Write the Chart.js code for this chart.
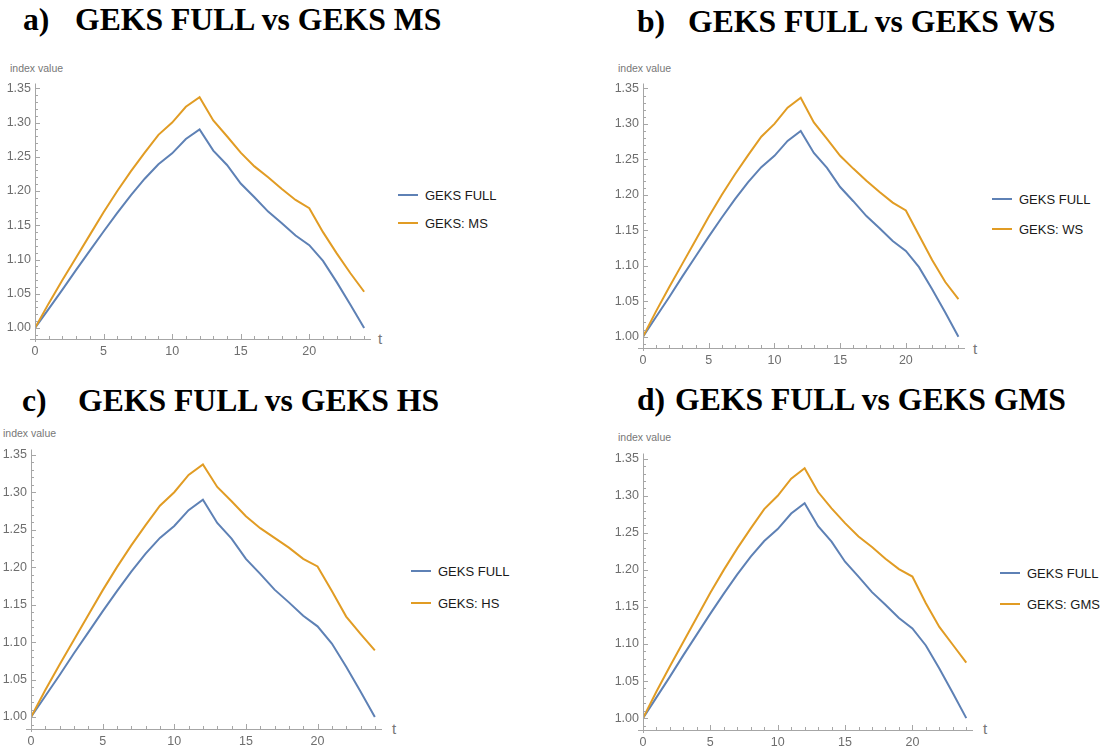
<!DOCTYPE html>
<html>
<head>
<meta charset="utf-8">
<script src="https://cdn.jsdelivr.net/npm/chart.js@4.4.0/dist/chart.umd.min.js"></script>
<style>
  body { margin: 0; background: #fff; width: 1104px; height: 746px; position: relative; overflow: hidden;
         font-family: "Liberation Sans", Arial, sans-serif; }
  canvas { position: absolute; }
  .ttl { position: absolute; font-family: "Liberation Serif", "Times New Roman", serif; font-weight: bold;
         font-size: 31.7px; color: #000; white-space: nowrap; line-height: 1; }
  .lbl { position: absolute; color: #777; white-space: nowrap; line-height: 1; }
  .leg { position: absolute; font-size: 13px; color: #1a1a1a; white-space: nowrap; line-height: 1; }
  .leg .row { position: absolute; left: 0; display: flex; align-items: center; height: 16px; margin-top: -8px; }
  .leg .sw { display: inline-block; width: 20px; height: 2px; margin-right: 7px; }
</style>
</head>
<body>
<script>
// time periods and tick labels
var periods = [0, 1, 2, 3, 4, 5, 6, 7, 8, 9, 10, 11, 12, 13, 14, 15, 16, 17, 18, 19, 20, 21, 22, 23, 24];
var xTicks = [0, 5, 10, 15, 20];
var yTicks = [1.00, 1.05, 1.10, 1.15, 1.20, 1.25, 1.30, 1.35];

// index values
var geksFull = [1.000, 1.028, 1.056, 1.085, 1.113, 1.141, 1.168, 1.194, 1.218, 1.239, 1.255, 1.276, 1.290,
                1.259, 1.238, 1.211, 1.191, 1.170, 1.153, 1.135, 1.121, 1.098, 1.067, 1.034, 1.000];
var geksMS   = [1.000, 1.036, 1.070, 1.103, 1.136, 1.169, 1.200, 1.229, 1.256, 1.282, 1.300, 1.323, 1.337,
                1.303, 1.280, 1.256, 1.236, 1.220, 1.203, 1.187, 1.175, 1.140, 1.109, 1.080, 1.053];
var geksWS   = [1.000, 1.036, 1.070, 1.103, 1.136, 1.169, 1.200, 1.229, 1.256, 1.282, 1.300, 1.323, 1.337,
                1.302, 1.279, 1.255, 1.237, 1.220, 1.204, 1.189, 1.178, 1.143, 1.108, 1.077, 1.053];
var geksHS   = [1.000, 1.036, 1.070, 1.103, 1.136, 1.169, 1.200, 1.229, 1.256, 1.282, 1.300, 1.323, 1.337,
                1.307, 1.288, 1.268, 1.252, 1.239, 1.226, 1.211, 1.201, 1.168, 1.134, 1.111, 1.089];
var geksGMS  = [1.000, 1.036, 1.070, 1.103, 1.136, 1.169, 1.200, 1.229, 1.256, 1.282, 1.300, 1.323, 1.337,
                1.305, 1.283, 1.263, 1.245, 1.231, 1.215, 1.201, 1.191, 1.155, 1.123, 1.099, 1.075];

var fullName = "GEKS FULL";
var panelTags = ["a)", "b)", "c)", "d)"];
var panelTitles = ["GEKS FULL vs GEKS MS", "GEKS FULL vs GEKS WS", "GEKS FULL vs GEKS HS", "GEKS FULL vs GEKS GMS"];
var compareNames = ["GEKS: MS", "GEKS: WS", "GEKS: HS", "GEKS: GMS"];
var compareSeries = [geksMS, geksWS, geksHS, geksGMS];

var blue = "#5e81b5";
var orange = "#e19c24";
var yMin = 0.984, yMax = 1.357, xMax = 24.5;

// where each panel sits on the page
var layouts = [
  { tagX: 23,  titleX: 75,  titleY: 4,   L: 34.5,  R: 370,   T: 82.2,  B: 339,
    ivX: 10,  ivY: 63,  tX: 378, tY: 331, legX: 398, legY: [195, 223] },
  { tagX: 637, titleX: 688, titleY: 6,   L: 642.7, R: 964.9, T: 82.3,  B: 348.5,
    ivX: 618, ivY: 63,  tX: 973, tY: 341, legX: 992, legY: [199, 229] },
  { tagX: 22,  titleX: 78,  titleY: 385, L: 30.7,  R: 381.8, T: 448,   B: 729,
    ivX: 3,   ivY: 428, tX: 392, tY: 721, legX: 411, legY: [571, 603] },
  { tagX: 637, titleX: 675, titleY: 384, L: 643.3, R: 972.8, T: 451.5, B: 729,
    ivX: 618, ivY: 432, tX: 983, tY: 721, legX: 1000, legY: [573, 604] }
];

// Mathematica style axes: lines with inward major and minor ticks
var axesPlugin = {
  id: "mmaAxes",
  afterDatasetsDraw: function(chart) {
    var ctx = chart.ctx;
    var xs = chart.scales.x, ys = chart.scales.y;
    var x0 = xs.getPixelForValue(0), yb = ys.getPixelForValue(yMin);
    ctx.save();
    ctx.strokeStyle = "#a6a6a6";
    ctx.lineWidth = 1;
    ctx.beginPath();
    ctx.moveTo(x0 - 5, Math.round(yb) + 0.5);
    ctx.lineTo(xs.getPixelForValue(xMax), Math.round(yb) + 0.5);
    ctx.moveTo(Math.round(x0) + 0.5, ys.getPixelForValue(yMax));
    ctx.lineTo(Math.round(x0) + 0.5, yb + 3);
    for (var i = 1; i <= 24; i++) {
      var px = Math.round(xs.getPixelForValue(i)) + 0.5;
      var len = i % 5 === 0 ? 5 : 3;
      ctx.moveTo(px, yb);
      ctx.lineTo(px, yb - len);
    }
    for (var k = 99; k <= 135; k++) {
      var py = Math.round(ys.getPixelForValue(k / 100)) + 0.5;
      var l2 = k % 5 === 0 ? 5 : 3;
      ctx.moveTo(x0, py);
      ctx.lineTo(x0 + l2, py);
    }
    ctx.stroke();
    ctx.restore();
  }
};

function addText(cls, text, x, y, size) {
  var d = document.createElement("div");
  d.className = cls;
  d.textContent = text;
  d.style.left = x + "px";
  d.style.top = y + "px";
  if (size) d.style.fontSize = size + "px";
  document.body.appendChild(d);
  return d;
}

var tickFont = { family: "'Liberation Sans Narrow', 'Liberation Sans', Arial, sans-serif", size: 12.5 };

for (var p = 0; p < 4; p++) {
  var lay = layouts[p];

  addText("ttl", panelTags[p], lay.tagX, lay.titleY);
  addText("ttl", panelTitles[p], lay.titleX, lay.titleY);
  addText("lbl", "index value", lay.ivX, lay.ivY, 10.5);
  addText("lbl", "t", lay.tX, lay.tY, 15);

  // legend
  var leg = document.createElement("div");
  leg.className = "leg";
  leg.style.left = lay.legX + "px";
  leg.style.top = "0px";
  [[fullName, blue], [compareNames[p], orange]].forEach(function(item, idx) {
    var row = document.createElement("div");
    row.className = "row";
    row.style.top = lay.legY[idx] + "px";
    var sw = document.createElement("span");
    sw.className = "sw";
    sw.style.background = item[1];
    var tx = document.createElement("span");
    tx.textContent = item[0];
    row.appendChild(sw);
    row.appendChild(tx);
    leg.appendChild(row);
  });
  document.body.appendChild(leg);

  // canvas sized so the chart area lands on L..R, T..B
  var padTop = 10, yAxisW = 40, xAxisH = 22, padRight = 4;
  var canvas = document.createElement("canvas");
  var w = Math.round(lay.R - lay.L + yAxisW + padRight);
  var h = Math.round(lay.B - lay.T + padTop + xAxisH);
  canvas.width = w;
  canvas.height = h;
  canvas.style.width = w + "px";
  canvas.style.height = h + "px";
  canvas.style.left = (lay.L - yAxisW) + "px";
  canvas.style.top = (lay.T - padTop) + "px";
  document.body.appendChild(canvas);

  new Chart(canvas.getContext("2d"), {
    type: "line",
    data: {
      labels: periods,
      datasets: [
        { label: fullName, data: geksFull, borderColor: blue, order: 1 },
        { label: compareNames[p], data: compareSeries[p], borderColor: orange, order: 0 }
      ]
    },
    options: {
      responsive: false,
      animation: false,
      devicePixelRatio: 1,
      layout: { padding: { top: padTop, right: padRight, left: 0, bottom: 0 } },
      plugins: { legend: { display: false }, tooltip: { enabled: false } },
      elements: { point: { radius: 0 }, line: { borderWidth: 2, tension: 0, fill: false } },
      scales: {
        x: {
          type: "linear", min: 0, max: xMax,
          afterFit: function(s) { s.height = xAxisH; },
          afterBuildTicks: function(s) { s.ticks = xTicks.map(function(v) { return { value: v }; }); },
          grid: { display: false, drawTicks: false },
          border: { display: false },
          ticks: { padding: 5, color: "#6e6e6e", font: tickFont, maxRotation: 0, autoSkip: false,
                   callback: function(v) { return String(v); } }
        },
        y: {
          type: "linear", min: yMin, max: yMax,
          afterFit: function(s) { s.width = yAxisW; },
          afterBuildTicks: function(s) { s.ticks = yTicks.map(function(v) { return { value: v }; }); },
          grid: { display: false, drawTicks: false },
          border: { display: false },
          ticks: { padding: 4, color: "#6e6e6e", font: tickFont, autoSkip: false,
                   callback: function(v) { return Number(v).toFixed(2); } }
        }
      }
    },
    plugins: [axesPlugin]
  });
}
</script>
</body>
</html>
